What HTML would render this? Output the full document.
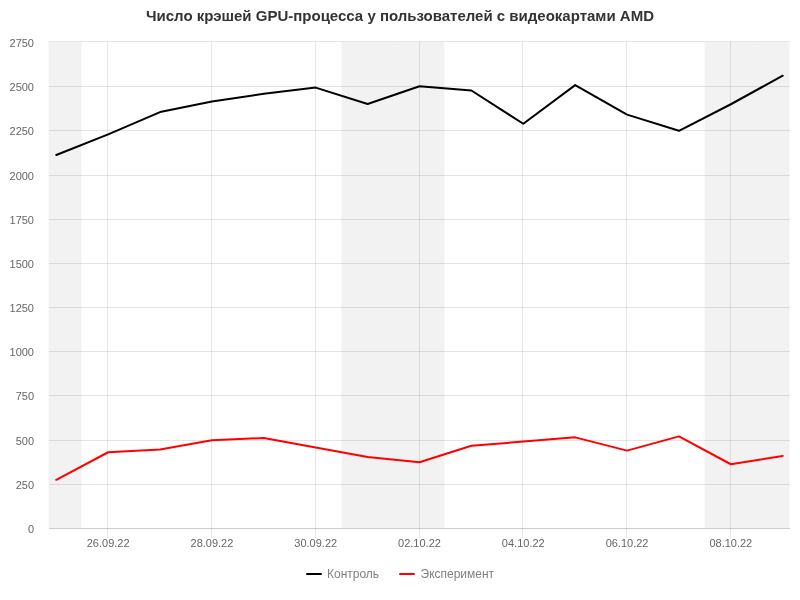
<!DOCTYPE html>
<html lang="ru">
<head>
<meta charset="utf-8">
<title>Число крэшей GPU-процесса у пользователей с видеокартами AMD</title>
<style>
html,body{margin:0;padding:0;background:#ffffff;}
body{width:800px;height:600px;overflow:hidden;}
svg{display:block;will-change:transform;font-family:"Liberation Sans",sans-serif;}
.title{font-size:15px;font-weight:bold;fill:#333333;}
.ax{font-size:11px;fill:#666666;}
.lg{font-size:12px;fill:#808080;}
</style>
</head>
<body>
<svg width="800" height="600" viewBox="0 0 800 600">
<rect x="0" y="0" width="800" height="600" fill="#ffffff"/>
<g fill="#000000" fill-opacity="0.05">
<rect x="48.5" y="42" width="33.0" height="486"/>
<rect x="341.5" y="42" width="52.0" height="486"/>
<rect x="393.5" y="42" width="51.0" height="486"/>
<rect x="704.5" y="42" width="52.0" height="486"/>
<rect x="756.5" y="42" width="33.0" height="486"/>
</g>
<g stroke="#000000" stroke-opacity="0.1" stroke-width="1" fill="none">
<path d="M107.5 42V538"/>
<path d="M211.5 42V538"/>
<path d="M315.5 42V538"/>
<path d="M419.5 42V538"/>
<path d="M522.5 42V538"/>
<path d="M626.5 42V538"/>
<path d="M730.5 42V538"/>
<path d="M49 41.5H790"/>
<path d="M49 86.5H790"/>
<path d="M49 130.5H790"/>
<path d="M49 175.5H790"/>
<path d="M49 219.5H790"/>
<path d="M49 263.5H790"/>
<path d="M49 307.5H790"/>
<path d="M49 351.5H790"/>
<path d="M49 395.5H790"/>
<path d="M49 440.5H790"/>
<path d="M49 484.5H790"/>
<path d="M49 528.5H790"/>
<path d="M49 528.5H790"/>
</g>
<polyline fill="none" stroke="#000000" stroke-width="2" stroke-linejoin="round" stroke-linecap="round" points="56.27,155.00 108.16,134.40 160.05,112.10 211.94,101.50 263.83,93.75 315.72,87.60 367.61,104.05 419.50,86.30 471.39,90.50 523.28,123.75 575.17,85.10 627.07,114.60 678.96,130.80 730.85,104.25 782.74,75.70"/>
<polyline fill="none" stroke="#ff0000" stroke-width="2" stroke-linejoin="round" stroke-linecap="round" points="56.27,479.80 108.16,452.25 160.05,449.45 211.94,440.30 263.83,438.00 315.72,447.40 367.61,456.95 419.50,462.30 471.39,445.80 523.28,441.60 575.17,437.35 627.07,450.60 678.96,436.40 730.85,464.25 782.74,456.00"/>
<text class="title" x="400" y="21" text-anchor="middle">Число крэшей GPU-процесса у пользователей с видеокартами AMD</text>
<g class="ax" text-anchor="end">
<text x="34" y="47">2750</text>
<text x="34" y="91">2500</text>
<text x="34" y="135">2250</text>
<text x="34" y="180">2000</text>
<text x="34" y="224">1750</text>
<text x="34" y="268">1500</text>
<text x="34" y="312">1250</text>
<text x="34" y="356">1000</text>
<text x="34" y="400">750</text>
<text x="34" y="445">500</text>
<text x="34" y="489">250</text>
<text x="34" y="533">0</text>
</g>
<g class="ax" text-anchor="middle">
<text x="108.16" y="547">26.09.22</text>
<text x="211.94" y="547">28.09.22</text>
<text x="315.72" y="547">30.09.22</text>
<text x="419.50" y="547">02.10.22</text>
<text x="523.28" y="547">04.10.22</text>
<text x="627.07" y="547">06.10.22</text>
<text x="730.85" y="547">08.10.22</text>
</g>
<g class="lg">
<path d="M307 574H321" stroke="#000000" stroke-width="2" stroke-linecap="round" fill="none"/>
<text x="327" y="578">Контроль</text>
<path d="M400 574H414" stroke="#ff0000" stroke-width="2" stroke-linecap="round" fill="none"/>
<text x="420.5" y="578">Эксперимент</text>
</g>
</svg>
</body>
</html>
